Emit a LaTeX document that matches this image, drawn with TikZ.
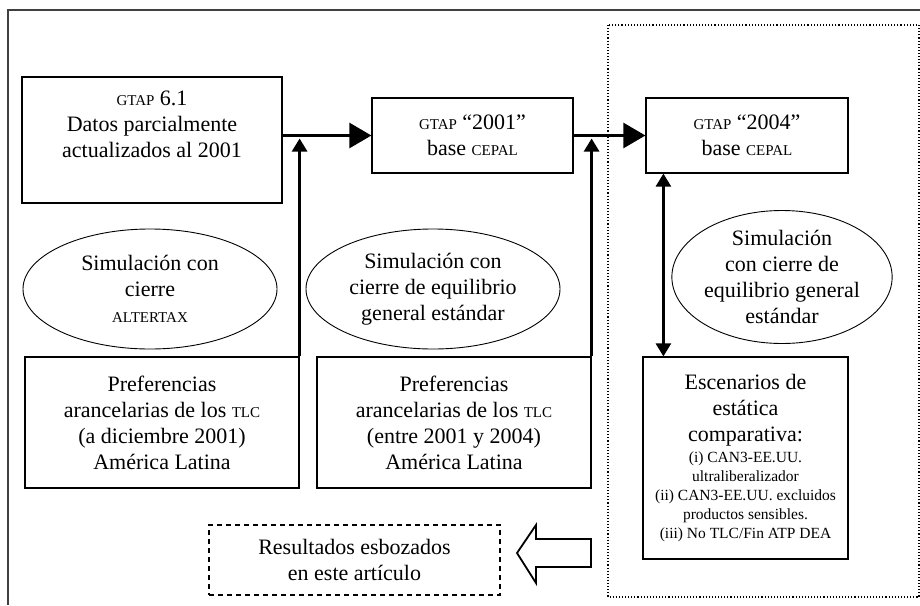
\documentclass[tikz,border=0pt]{standalone}
\usepackage{fontspec}
\setmainfont{Liberation Serif}
\usetikzlibrary{arrows.meta,shapes.geometric}
\newcommand{\smc}[1]{{\fontsize{15}{15}\selectfont #1}}
\newcommand{\smalltxt}{\fontsize{15.5}{19}\selectfont}
\tikzset{
  box/.style={draw, line width=1.2pt, align=center, inner sep=0pt, font=\fontsize{22}{26}\selectfont},
  oval/.style={draw, ellipse, line width=0.9pt, align=center, inner sep=0pt, font=\fontsize{22}{26}\selectfont},
  flow/.style={line width=2.6pt, -{Triangle[width=25pt,length=22pt]}},
  feed/.style={line width=2.6pt, -{Triangle[width=15pt,length=13pt]}}
}
\begin{document}
\begin{tikzpicture}[x=1pt, y=-1pt]
        \useasboundingbox (0,0) rectangle (920,605);

        % frame and dotted region
        \draw[line width=1.3pt, black!75] (920,10) -- (8,10) -- (8,605);
        \draw[dotted, line width=1.1pt] (608,25) rectangle (919,597);

        % data bases
        \node[box, minimum width=260pt, minimum height=126pt] (gtapA) at (152,140) {\smc{GTAP} 6.1\\Datos parcialmente\\actualizados al 2001\\[6pt]};
        \node[box, minimum width=201pt, minimum height=75pt] (gtapB) at (472.5,135.5) {\smc{GTAP} ``2001''\\base \smc{CEPAL}};
        \node[box, minimum width=202pt, minimum height=75pt] (gtapC) at (747,135.5) {\smc{GTAP} ``2004''\\base \smc{CEPAL}};

        % simulations
        \node[oval, minimum width=254pt, minimum height=120pt] (simA) at (150,289) {Simulación con\\cierre\\\smc{ALTERTAX}};
        \node[oval, minimum width=254pt, minimum height=120pt] (simB) at (433,289) {Simulación con\\cierre de equilibrio\\general estándar};
        \node[oval, minimum width=201pt, minimum height=133pt] (simC) at (782,277) {Simulación\\con cierre de\\equilibrio general\\estándar};

        % preferences
        \node[box, minimum width=274pt, minimum height=131pt] (prefA) at (162,422.5) {Preferencias\\arancelarias de los \smc{TLC}\\(a diciembre 2001)\\América Latina};
        \node[box, minimum width=274pt, minimum height=131pt] (prefB) at (454,422.5) {Preferencias\\arancelarias de los \smc{TLC}\\(entre 2001 y 2004)\\América Latina};

        % scenarios
        \node[box, minimum width=205pt, minimum height=202pt] (escen) at (745.5,458) {Escenarios de\\estática\\comparativa:\\[-5pt]
          \smalltxt (i) CAN3-EE.UU.\\[-7pt]\smalltxt ultraliberalizador\\[-7pt]\smalltxt (ii) CAN3-EE.UU. excluidos\\[-7pt]\smalltxt productos sensibles.\\[-7pt]\smalltxt (iii) No TLC/Fin ATP DEA};

        % results
        \node[box, dash pattern=on 5pt off 4pt, minimum width=291pt, minimum height=70pt] (result) at (354.5,560) {Resultados esbozados\\en este artículo};
        \draw[line width=1.8pt] (591,539) -- (536,539) -- (536,525) -- (517,553) -- (536,583) -- (536,567) -- (591,567) -- cycle;

        % flows
        \draw[flow] (gtapA.east |- gtapB.west) -- (gtapB.west);
        \draw[flow] (gtapB.east) -- (gtapC.west);
        \draw[feed, shorten >=3pt] (prefA.north east) -- (prefA.north east |- gtapB.west);
        \draw[feed, shorten >=3pt] (prefB.north east) -- (prefB.north east |- gtapC.west);
        \draw[feed, {Triangle[width=15pt,length=13pt]}-{Triangle[width=15pt,length=13pt]}] ([xshift=18pt]gtapC.south west) -- ([xshift=18pt]gtapC.south west |- escen.north);

\end{tikzpicture}
\end{document}
